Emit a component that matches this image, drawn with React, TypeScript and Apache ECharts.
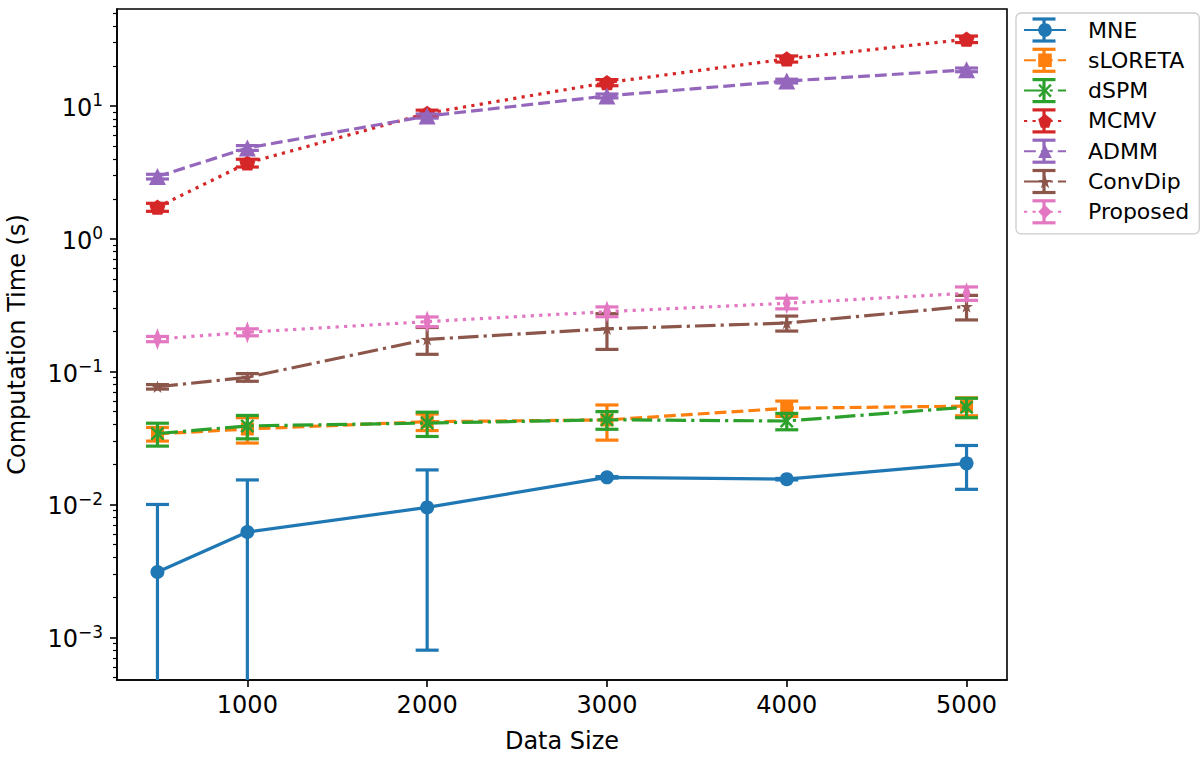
import React, { useEffect, useRef } from 'react';
import * as echarts from 'echarts';

// ---------------- data ----------------
const dataSizes = [500, 1000, 2000, 3000, 4000, 5000];
const xTickValues = [1000, 2000, 3000, 4000, 5000];
const yTickValues = [0.001, 0.01, 0.1, 1, 10];

const methodNames = ['MNE', 'sLORETA', 'dSPM', 'MCMV', 'ADMM', 'ConvDip', 'Proposed'];

const mneMean = [0.0031, 0.0062, 0.0095, 0.0160, 0.0155, 0.0204];
const mneStd = [0.0069, 0.0091, 0.0087, 0.0002, 0.0002, 0.0074];

const sloretaMean = [0.0340, 0.0370, 0.0420, 0.0433, 0.0530, 0.0550];
const sloretaStd = [0.0040, 0.0080, 0.0060, 0.0128, 0.0070, 0.0085];

const dspmMean = [0.0342, 0.0390, 0.0410, 0.0434, 0.0425, 0.0540];
const dspmStd = [0.0067, 0.0078, 0.0085, 0.0066, 0.0060, 0.0090];

const mcmvMean = [1.73, 3.72, 8.8, 15.0, 22.6, 31.8];
const mcmvStd = [0.12, 0.25, 0.5, 0.8, 1.2, 1.8];

const admmMean = [2.94, 4.83, 8.4, 11.9, 15.4, 18.7];
const admmStd = [0.12, 0.2, 0.3, 0.4, 0.5, 0.6];

const convdipMean = [0.0769, 0.0906, 0.175, 0.210, 0.232, 0.310];
const convdipStd = [0.003, 0.006, 0.040, 0.063, 0.030, 0.065];

const proposedMean = [0.176, 0.198, 0.238, 0.283, 0.327, 0.389];
const proposedStd = [0.008, 0.012, 0.020, 0.024, 0.030, 0.045];

const allMeans = [mneMean, sloretaMean, dspmMean, mcmvMean, admmMean, convdipMean, proposedMean];
const allStds = [mneStd, sloretaStd, dspmStd, mcmvStd, admmStd, convdipStd, proposedStd];

// ---------------- styles ----------------
const FONT = 'DejaVu Sans';
const X_MIN = 275;
const X_MAX = 5225;
const Y_MIN = 4.77e-4;
const Y_MAX = 53.7;
const LW = 3.2;
const CAP = 11.5;

const colors = ['#1f77b4', '#ff7f0e', '#2ca02c', '#d62728', '#9467bd', '#8c564b', '#e377c2'];
const dashes: any[] = [
  'solid',
  [11.8, 5.1],
  [20.5, 5.1, 3.2, 5.1],
  [3.2, 5.3],
  [11.8, 5.1],
  [20.5, 5.1, 3.2, 5.1],
  [3.2, 5.3],
];
const PENTAGON = 'path://M10,0 L19.511,6.91 L15.878,18.09 L4.122,18.09 L0.489,6.91 Z';
const STAR = 'path://M10,0 L12.245,6.91 L19.511,6.91 L13.633,11.18 L15.878,18.09 L10,13.82 L4.122,18.09 L6.367,11.18 L0.489,6.91 L7.755,6.91 Z';
const XMARK = 'path://M0,2.5 L2.5,0 L10,7.5 L17.5,0 L20,2.5 L12.5,10 L20,17.5 L17.5,20 L10,12.5 L2.5,20 L0,17.5 L7.5,10 Z';
const THIN_DIAMOND = 'path://M6,0 L12,10 L6,20 L0,10 Z';
const symbols = ['circle', 'rect', XMARK, PENTAGON, 'triangle', STAR, THIN_DIAMOND];
const symbolSizes: any[] = [14, 13, 14, 16, 17, 13, [13, 22]];

// minor tick positions for the log axis (2..9 x 10^k)
const minorTicks: number[] = [];
for (let k = -4; k <= 1; k++) {
  for (let m = 2; m <= 9; m++) {
    const v = m * Math.pow(10, k);
    if (v >= Y_MIN && v <= Y_MAX) minorTicks.push(v);
  }
}

// legend layout
const LEG_LEFT = 1016;
const LEG_TOP = 13;
const LEG_PAD = [6, 10, 11, 7];
const LEG_ITEM_W = 42;
const LEG_ROW = 30.3;
const LEG_ITEM_H = 22;

function buildOption() {
  const series: any[] = [];
  methodNames.forEach((name, i) => {
    const mean = allMeans[i];
    const std = allStds[i];
    const color = colors[i];
    const errData = dataSizes.map((x, j) => {
      const lo = mean[j] - std[j];
      const clipped = lo < Y_MIN ? 1 : 0;
      return [x, clipped ? Y_MIN : lo, mean[j] + std[j], clipped];
    });
    series.push({
      type: 'custom',
      xAxisIndex: 0,
      yAxisIndex: 0,
      z: 10 + i * 2,
      silent: true,
      encode: { x: 0, y: [1, 2] },
      data: errData,
      renderItem: (params: any, api: any) => {
        const x = api.value(0);
        const top = api.coord([x, api.value(2)]);
        const bot = api.coord([x, api.value(1)]);
        const style = { stroke: color, lineWidth: LW, fill: 'none' };
        const children: any[] = [
          { type: 'line', shape: { x1: top[0], y1: top[1], x2: bot[0], y2: bot[1] }, style },
          { type: 'line', shape: { x1: top[0] - CAP, y1: top[1], x2: top[0] + CAP, y2: top[1] }, style },
        ];
        if (!api.value(3)) {
          children.push({ type: 'line', shape: { x1: bot[0] - CAP, y1: bot[1], x2: bot[0] + CAP, y2: bot[1] }, style });
        }
        return { type: 'group', children };
      },
    });
    series.push({
      type: 'line',
      name,
      xAxisIndex: 0,
      yAxisIndex: 0,
      z: 11 + i * 2,
      data: dataSizes.map((x, j) => [x, mean[j]]),
      symbol: symbols[i],
      symbolSize: symbolSizes[i],
      symbolKeepAspect: true,
      showSymbol: true,
      lineStyle: { color, width: LW, type: dashes[i], cap: 'butt' },
      itemStyle: { color, borderWidth: 0 },
      emphasis: { disabled: true },
    });
  });

  // legend error-bar glyphs
  const legendGlyphs: any[] = [];
  methodNames.forEach((_, i) => {
    const cx = LEG_LEFT + LEG_PAD[3] + LEG_ITEM_W / 2;
    const cy = LEG_TOP + LEG_PAD[0] + LEG_ITEM_H / 2 + i * LEG_ROW;
    const style = { stroke: colors[i], lineWidth: LW };
    legendGlyphs.push(
      { type: 'line', z: 200, silent: true, shape: { x1: cx, y1: cy - 11, x2: cx, y2: cy + 11 }, style },
      { type: 'line', z: 200, silent: true, shape: { x1: cx - CAP, y1: cy - 11, x2: cx + CAP, y2: cy - 11 }, style },
      { type: 'line', z: 200, silent: true, shape: { x1: cx - CAP, y1: cy + 11, x2: cx + CAP, y2: cy + 11 }, style },
    );
  });

  const yLabelFormatter = (v: number) => {
    const e = Math.round(Math.log10(v));
    const s = e < 0 ? '\u2212' + Math.abs(e) : String(e);
    return '{b|10}{e|' + s + '}';
  };

  return {
    animation: false,
    backgroundColor: '#ffffff',
    textStyle: { fontFamily: FONT },
    grid: {
      left: 117,
      top: 9,
      right: 193,
      bottom: 80,
      show: true,
      borderColor: '#000000',
      borderWidth: 1.6,
      containLabel: false,
      outerBoundsMode: 'none',
    },
    legend: {
      show: true,
      data: methodNames,
      orient: 'vertical',
      left: LEG_LEFT,
      top: LEG_TOP,
      padding: LEG_PAD,
      itemGap: LEG_ROW - LEG_ITEM_H,
      itemWidth: LEG_ITEM_W,
      itemHeight: 17,
      backgroundColor: '#ffffff',
      borderColor: '#cccccc',
      borderWidth: 1.3,
      borderRadius: 5,
      selectedMode: false,
      textStyle: { fontFamily: FONT, fontSize: 22, color: '#000000', padding: [0, 0, 0, 17] },
    },
    xAxis: [
      {
        type: 'value',
        min: X_MIN,
        max: X_MAX,
        name: 'Data Size',
        nameLocation: 'middle',
        nameGap: 49,
        nameTextStyle: { fontFamily: FONT, fontSize: 24, color: '#000000' },
        axisLine: { show: true, onZero: false, lineStyle: { color: '#000000', width: 1.6 } },
        axisTick: { show: true, length: 7, lineStyle: { color: '#000000', width: 1.6 }, customValues: xTickValues },
        axisLabel: { show: true, margin: 13, fontFamily: FONT, fontSize: 24, color: '#000000', customValues: xTickValues, formatter: (v: number) => String(v) },
        splitLine: { show: false },
      },
    ],
    yAxis: [
      {
        type: 'log',
        logBase: 10,
        min: Y_MIN,
        max: Y_MAX,
        position: 'left',
        name: 'Computation Time (s)',
        nameLocation: 'middle',
        nameGap: 88,
        nameTextStyle: { fontFamily: FONT, fontSize: 24, color: '#000000' },
        axisLine: { show: true, onZero: false, lineStyle: { color: '#000000', width: 1.6 } },
        axisTick: { show: true, length: 7, lineStyle: { color: '#000000', width: 1.6 }, customValues: yTickValues },
        axisLabel: {
          show: true,
          margin: 14,
          customValues: yTickValues,
          formatter: yLabelFormatter,
          rich: {
            b: { fontFamily: FONT, fontSize: 24, color: '#000000', lineHeight: 28, verticalAlign: 'bottom' },
            e: { fontFamily: FONT, fontSize: 17, color: '#000000', lineHeight: 16, verticalAlign: 'top' },
          },
        },
        splitLine: { show: false },
        minorTick: { show: false },
      },
      {
        type: 'log',
        logBase: 10,
        min: Y_MIN,
        max: Y_MAX,
        position: 'left',
        offset: 0,
        axisLine: { show: false },
        axisTick: { show: true, length: 4, lineStyle: { color: '#000000', width: 1.2 }, customValues: minorTicks },
        axisLabel: { show: false },
        splitLine: { show: false },
      },
    ],
    graphic: legendGlyphs,
    series,
  };
}

export default function App() {
  const ref = useRef<HTMLDivElement>(null);
  useEffect(() => {
    if (!ref.current) return;
    const chart = echarts.init(ref.current, null, { renderer: 'svg' });
    chart.setOption(buildOption() as any);
    return () => {
      chart.dispose();
    };
  }, []);
  return (
    <div
      ref={ref}
      style={{ position: 'fixed', left: 0, top: 0, width: 1200, height: 760, background: '#ffffff' }}
    />
  );
}
